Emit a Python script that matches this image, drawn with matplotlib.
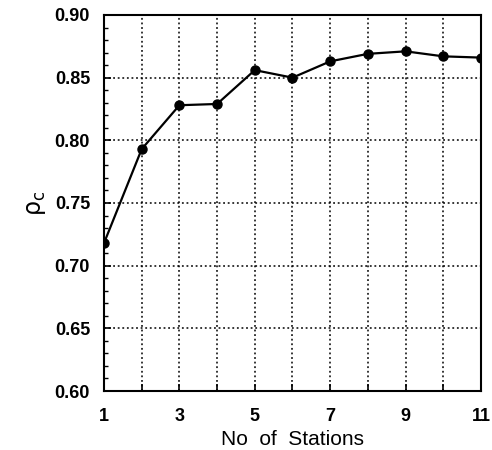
import numpy as np
import matplotlib.pyplot as plt
from matplotlib.ticker import MultipleLocator

# Data
stations = [1, 2, 3, 4, 5, 6, 7, 8, 9, 10, 11]
rho_c = [0.718, 0.793, 0.828, 0.829, 0.856, 0.850, 0.863, 0.869, 0.871, 0.867, 0.866]
xtick_labels = ['1', '', '3', '', '5', '', '7', '', '9', '', '11']
yticks = [0.60, 0.65, 0.70, 0.75, 0.80, 0.85, 0.90]

plt.rcParams['font.family'] = ['Liberation Sans', 'DejaVu Sans']

fig = plt.figure(figsize=(4.92, 4.5), dpi=100)
ax = fig.add_axes([0.2114, 0.1311, 0.7662, 0.8356])

ax.plot(stations, rho_c, 'k-', lw=1.6, marker='o', ms=6.5)

ax.set_xlim(1, 11)
ax.set_ylim(0.60, 0.90)
ax.set_xticks(stations)
ax.set_xticklabels(xtick_labels)
ax.set_yticks(yticks)
ax.set_yticklabels([f'{v:.2f}' for v in yticks])
ax.yaxis.set_minor_locator(MultipleLocator(0.01))

ax.grid(True, which='major', color='k', linestyle=(0, (1.2, 1.8)), lw=1.1)
ax.tick_params(direction='in', length=5, width=1.2, labelsize=13, pad=12)
ax.tick_params(axis='y', pad=10)
ax.tick_params(which='minor', direction='in', length=3, width=1.0, left=True)
for lab in ax.get_xticklabels() + ax.get_yticklabels():
    lab.set_fontweight('bold')
for s in ax.spines.values():
    s.set_linewidth(1.5)

ax.set_xlabel('No  of  Stations', fontsize=15, labelpad=4)
ax.set_ylabel(r'$\mathrm{ρ}_\mathrm{c}$', fontsize=17, labelpad=5)

fig.savefig('out.png', dpi=100)
